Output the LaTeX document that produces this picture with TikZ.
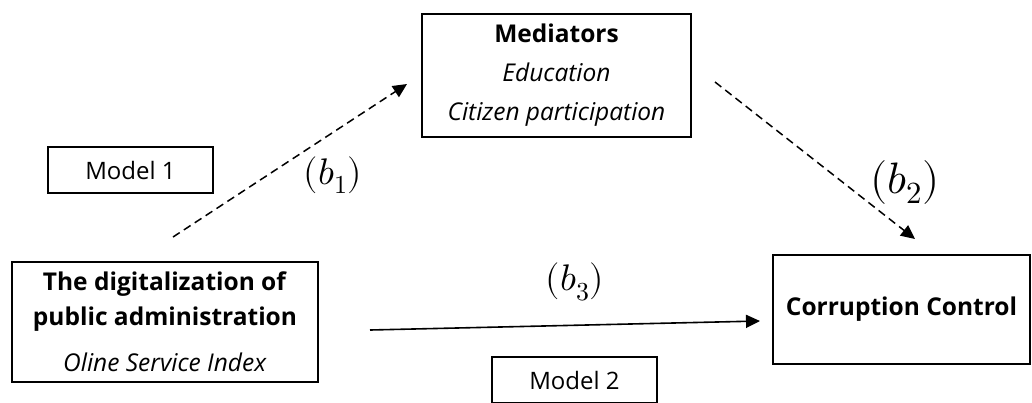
\documentclass[tikz,border=0pt]{standalone}
\usepackage{fontspec}
\usepackage{unicode-math}
\setmainfont{Open Sans}
\setmathfont{Latin Modern Math}
\usetikzlibrary{arrows.meta,positioning}

\begin{document}
\begin{tikzpicture}[x=1pt,y=-1pt]
      \tikzstyle{box}=[rectangle,draw,line width=2pt,align=center,inner sep=0pt]
      \tikzstyle{modelbox}=[rectangle,draw,line width=1.8pt,minimum width=165pt,minimum height=46pt,inner sep=0pt,font=\fontsize{24}{28}\selectfont]
      \tikzstyle{dasharrow}=[-{Triangle[length=14pt,width=13pt]},line width=1.5pt,dash pattern=on 8pt off 5pt]
      \tikzstyle{solidarrow}=[-{Triangle[length=14pt,width=13pt]},line width=1.6pt]
      \tikzstyle{coef}=[inner sep=0pt]
      \useasboundingbox (0,0) rectangle (1032,402);

      \node[box,minimum width=269pt,minimum height=123pt,font=\fontsize{24.5}{39}\selectfont] (med) at (556.5,75.5)
        {\textbf{Mediators}\\ \textit{Education}\\ \textit{Citizen participation}};
      \node[box,minimum width=306pt,minimum height=120pt,font=\fontsize{24.5}{35}\selectfont] (dig) at (165,322)
        {\textbf{The digitalization of}\\ \textbf{public administration}\\[11pt] \textit{Oline Service Index}};
      \node[box,minimum width=257pt,minimum height=109pt,font=\fontsize{24.5}{28}\selectfont] (cc) at (901.5,309.5)
        {\textbf{Corruption Control}};
      \node[modelbox] (m1) at (130.5,170) {Model 1};
      \node[modelbox] (m2) at (574.5,380) {Model 2};

      \coordinate (b1s) at (173,237);
      \coordinate (b1e) at (407,84);
      \coordinate (b2s) at (715,82);
      \coordinate (b2e) at (915,239);
      \coordinate (b3s) at (370,330);
      \coordinate (b3e) at (760,321);

      \draw[dasharrow] (b1s) -- (b1e);
      \draw[dasharrow] (b2s) -- (b2e);
      \draw[solidarrow] (b3s) -- (b3e);

      \node[coef,font=\fontsize{37}{40}\selectfont] (b1) at (333,175) {$(b_1)$};
      \node[coef,font=\fontsize{44}{48}\selectfont] (b2) at (905,182) {$(b_2)$};
      \node[coef,font=\fontsize{37}{40}\selectfont] (b3) at (575,282) {$(b_3)$};
\end{tikzpicture}
\end{document}
